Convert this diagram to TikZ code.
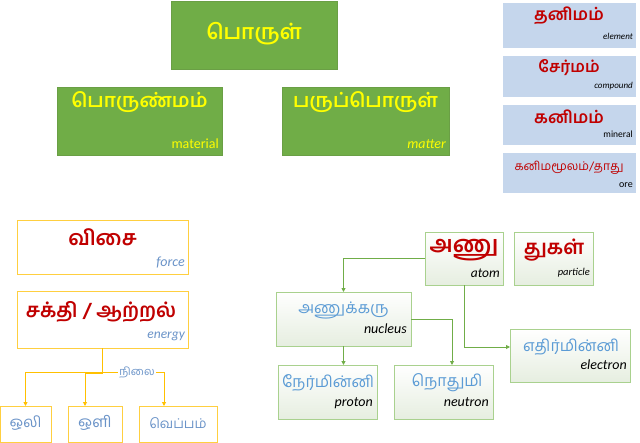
\documentclass[tikz,border=0pt]{standalone}
\usepackage{fontspec}
\setmainfont{Carlito}
\newfontfamily\tam[Script=Tamil]{Hind Madurai}
\newfontfamily\tamm[Script=Tamil]{Hind Madurai SemiBold}
\usetikzlibrary{arrows.meta}
\definecolor{grn}{HTML}{70AD47}
\definecolor{grnline}{HTML}{6A9F45}
\definecolor{yel}{HTML}{FFFF00}
\definecolor{lblue}{HTML}{C5D6EC}
\definecolor{dred}{HTML}{C00000}
\definecolor{gold}{HTML}{FFC000}
\definecolor{goldline}{HTML}{FFCF40}
\definecolor{tblue}{HTML}{5B9BD5}
\definecolor{sblue}{HTML}{6A93C8}
\definecolor{lgreen}{HTML}{A9D18E}
\definecolor{gfill}{HTML}{E6EEE0}
\begin{document}
\begin{tikzpicture}[x=1pt,y=-1pt,
  box/.style={inner sep=0pt,outer sep=0pt,minimum width=#1},
  greenbox/.style={box=#1,fill=grn,draw=grnline,line width=0.6pt},
  bluebox/.style={box=#1,fill=lblue,draw=white,line width=0.6pt},
  goldbox/.style={box=#1,fill=white,draw=goldline,line width=0.9pt},
  atombox/.style={box=#1,top color=white,bottom color=gfill,draw=lgreen,line width=0.9pt},
  sub/.style={anchor=base east,inner sep=0pt,font=\fontsize{14}{16}\selectfont},
  goldarrow/.style={draw=gold,line width=0.9pt,-{Triangle[length=4pt,width=4pt]}},
  grnarrow/.style={draw=grn,line width=0.9pt,-{Triangle[length=4pt,width=4pt]}}
]
\useasboundingbox (0,0) rectangle (640,442);
% top green boxes
\node[greenbox=166pt,minimum height=68pt] (porul) at (254,35) {};
\node[text=yel,font=\tamm\fontsize{21}{24}\selectfont] (porult) at (254,34) {பொருள்};
\node[greenbox=165pt,minimum height=68pt] (porunmam) at (139.5,121) {};
\node[text=yel,font=\tamm\fontsize{19.5}{22}\selectfont] (porunmamt) at (139.5,102) {பொருண்மம்};
\node[sub,text=yel] (material) at (219,148) {material};
\node[greenbox=167pt,minimum height=68pt] (paru) at (365.5,121) {};
\node[text=yel,font=\tamm\fontsize{19.5}{22}\selectfont] (parut) at (365.5,102) {பருப்பொருள்};
\node[sub,text=yel,font=\itshape\fontsize{14}{16}\selectfont] (matter) at (446,148) {matter};
% right blue boxes
\node[bluebox=134pt,minimum height=46pt] (b1) at (569,25) {};
\node[text=dred,font=\tam\bfseries\fontsize{17}{19}\selectfont] (b1t) at (569,16) {தனிமம்};
\node[sub,text=black,font=\itshape\fontsize{9}{10}\selectfont] (b1s) at (633,39) {element};
\node[bluebox=134pt,minimum height=42pt] (b2) at (569,76) {};
\node[text=dred,font=\tam\bfseries\fontsize{16}{18}\selectfont] (b2t) at (569,68) {சேர்மம்};
\node[sub,text=black,font=\itshape\fontsize{9}{10}\selectfont] (b2s) at (633,88) {compound};
\node[bluebox=134pt,minimum height=41pt] (b3) at (569,124.5) {};
\node[text=dred,font=\tam\bfseries\fontsize{17}{19}\selectfont] (b3t) at (569,117) {கனிமம்};
\node[sub,text=black,font=\fontsize{9.5}{10}\selectfont] (b3s) at (633,137) {mineral};
\node[bluebox=134pt,minimum height=41pt] (b4) at (569,172.5) {};
\node[text=dred,font=\tam\fontsize{12}{14}\selectfont] (b4t) at (569,168) {கனிமமூலம்/தாது};
\node[sub,text=black,font=\fontsize{10}{11}\selectfont] (b4s) at (633,187) {ore};
% left: force / energy
\node[goldbox=171pt,minimum height=54pt] (force) at (102.5,247) {};
\node[text=dred,font=\tam\bfseries\fontsize{21}{24}\selectfont] (forcet) at (102.5,237) {விசை};
\node[sub,text=sblue,font=\itshape\fontsize{14}{16}\selectfont] (forces) at (185,266) {force};
\node[goldbox=171pt,minimum height=57pt] (energy) at (102.5,319.5) {};
\node[text=dred,font=\tam\bfseries\fontsize{20}{24}\selectfont] (energyt) at (101,312) {சக்தி / ஆற்றல்};
\node[sub,text=sblue,font=\itshape\fontsize{13.5}{16}\selectfont] (energys) at (185,338) {energy};
\node[goldbox=51pt,minimum height=36pt] (oli) at (25.5,424) {};
\node[text=sblue,font=\tam\fontsize{15}{17}\selectfont] (olit) at (25.5,423) {ஒலி};
\node[goldbox=54pt,minimum height=36pt] (oli2) at (95,424) {};
\node[text=sblue,font=\tam\fontsize{15.5}{17}\selectfont] (oli2t) at (95,423) {ஒளி};
\node[goldbox=78pt,minimum height=36pt] (veppam) at (178,424) {};
\node[text=sblue,font=\tam\fontsize{13.5}{17}\selectfont] (veppamt) at (178,423) {வெப்பம்};
\draw[goldarrow] (energy.south) -- ++(0,24) -| (oli.north);
\draw[goldarrow] (energy.south) -- ++(0,25) -| ([xshift=-10pt]oli2.north);
\draw[goldarrow] (energy.south) -- ++(0,24) -| ([xshift=-14pt]veppam.north);
\node[text=sblue,fill=white,inner sep=1pt,font=\tam\fontsize{11}{12}\selectfont] (nilai) at (137,372) {நிலை};
% atom part
\node[atombox=78pt,minimum height=53pt] (anu) at (464,258.5) {};
\node[text=dred,font=\tam\bfseries\fontsize{23}{26}\selectfont] (anut) at (464,250) {அணு};
\node[sub,text=black,font=\itshape\fontsize{13.5}{16}\selectfont] (anus) at (500,277) {atom};
\node[atombox=79pt,minimum height=53pt] (thugal) at (553.5,258.5) {};
\node[text=dred,font=\tam\bfseries\fontsize{20}{24}\selectfont] (thugalt) at (554,250) {துகள்};
\node[sub,text=black,font=\itshape\fontsize{10.5}{12}\selectfont] (thugals) at (590,275) {particle};
\node[atombox=135pt,minimum height=54pt] (nucleus) at (343.5,319) {};
\node[text=tblue,font=\tam\fontsize{16}{19}\selectfont] (nucleust) at (343.5,310) {அணுக்கரு};
\node[sub,text=black,font=\itshape\fontsize{14}{16}\selectfont] (nucleuss) at (407,333) {nucleus};
\node[atombox=99pt,minimum height=54pt] (proton) at (327.5,392) {};
\node[text=tblue,font=\tam\fontsize{16}{19}\selectfont] (protont) at (328,383) {நேர்மின்னி};
\node[sub,text=black,font=\itshape\fontsize{14}{16}\selectfont] (protons) at (373,406) {proton};
\node[atombox=99pt,minimum height=54pt] (neutron) at (443.5,392) {};
\node[text=tblue,font=\tam\fontsize{16}{19}\selectfont] (neutront) at (447,383) {நொதுமி};
\node[sub,text=black,font=\itshape\fontsize{14}{16}\selectfont] (neutrons) at (489,406) {neutron};
\node[atombox=120pt,minimum height=53pt] (electron) at (570,355.5) {};
\node[text=tblue,font=\tam\fontsize{16}{19}\selectfont] (electront) at (571,347) {எதிர்மின்னி};
\node[sub,text=black,font=\itshape\fontsize{14}{16}\selectfont] (electrons) at (627,369) {electron};
\draw[grnarrow] (anu.west) -| (nucleus.north);
\draw[grnarrow] (anu.south) |- ([yshift=8.5pt]electron.west);
\draw[grnarrow] (nucleus.south) -- (nucleus.south |- proton.north);
\draw[grnarrow] (nucleus.east) -| ([xshift=8.5pt]neutron.north);
\end{tikzpicture}
\end{document}
